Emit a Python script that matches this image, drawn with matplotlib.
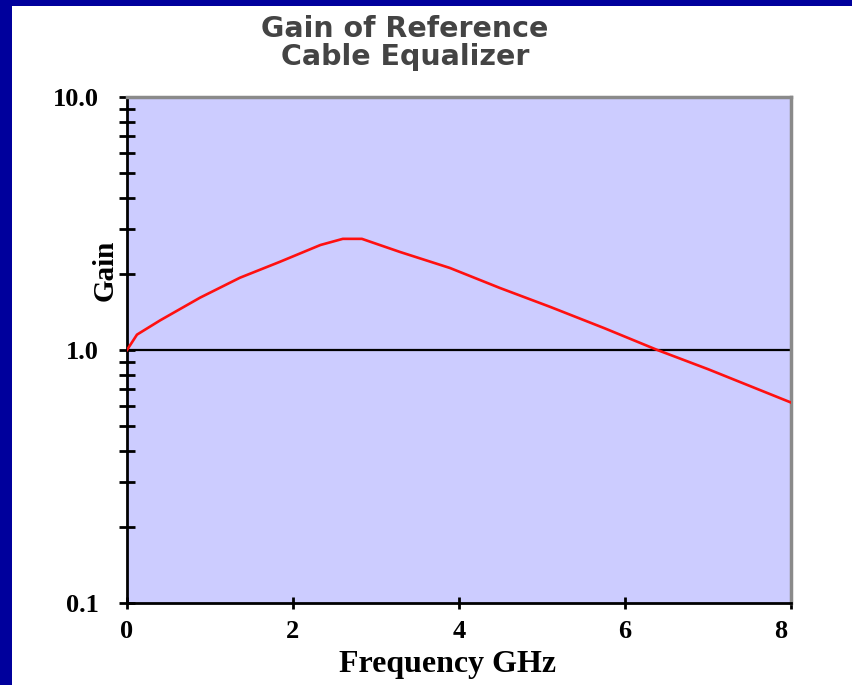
import matplotlib.pyplot as plt
import matplotlib.transforms as mtransforms
from matplotlib.patches import Rectangle
from matplotlib.ticker import FixedLocator, NullFormatter

# valeurs
freq_ghz = [0, 0.12, 0.40, 0.88, 1.36, 1.84, 2.33, 2.60, 2.83, 3.29, 3.89,
            4.49, 5.10, 5.75, 6.39, 7.0, 8.0]
gain = [1.0, 1.15, 1.31, 1.61, 1.93, 2.23, 2.60, 2.75, 2.75, 2.44, 2.11,
        1.76, 1.48, 1.22, 1.0, 0.84, 0.62]
x_ticks = [0, 2, 4, 6, 8]
y_ticks = [0.1, 1.0, 10.0]
y_tick_labels = ["0.1", "1.0", "10.0"]

W, H = 853, 685
fig = plt.figure(figsize=(W / 100, H / 100), dpi=100)
fig.patch.set_facecolor("white")

# bordure bleu marine
navy = "#00009c"
fig.add_artist(Rectangle((0, 0), 12 / W, 1, transform=fig.transFigure,
                         facecolor=navy, edgecolor="none"))
fig.add_artist(Rectangle((0, 1 - 6 / H), 1, 6 / H, transform=fig.transFigure,
                         facecolor=navy, edgecolor="none"))

ax = fig.add_axes([127 / W, 1 - 603 / H, 664 / W, 506 / H])
ax.set_facecolor("#ccccff")

ax.axhline(1.0, color="black", lw=1.6, zorder=2)
ax.plot(freq_ghz, gain, color="#ff1010", lw=1.9, zorder=3)

ax.set_yscale("log")
ax.set_ylim(0.1, 10)
ax.set_xlim(0, 8)

serif = "Liberation Serif"
ax.yaxis.set_major_locator(FixedLocator(y_ticks))
ax.set_yticklabels(y_tick_labels, fontfamily=serif, fontweight="bold", fontsize=19)
minor = [m * 0.1 for m in range(2, 10)] + [float(m) for m in range(2, 10)]
ax.yaxis.set_minor_locator(FixedLocator(minor))
ax.yaxis.set_minor_formatter(NullFormatter())
ax.set_xticks(x_ticks)
ax.set_xticklabels([str(v) for v in x_ticks], fontfamily=serif,
                   fontweight="bold", fontsize=19)

ax.tick_params(axis="y", which="both", direction="inout", length=12, width=2,
               pad=14, color="black")
ax.tick_params(axis="x", which="major", direction="inout", length=9, width=2,
               pad=8, color="black")

# le "8" est un peu décalé vers la gauche dans l'original
last = ax.get_xticklabels()[-1]
last.set_transform(last.get_transform() +
                   mtransforms.ScaledTranslation(-10 / 100, 0, fig.dpi_scale_trans))

for side in ["left", "bottom"]:
    ax.spines[side].set_color("black")
    ax.spines[side].set_linewidth(2)
for side in ["top", "right"]:
    ax.spines[side].set_color("#8a8a8a")
    ax.spines[side].set_linewidth(2.5)

ax.set_xlabel("Frequency GHz", fontfamily=serif, fontweight="bold", fontsize=23)
ax.xaxis.set_label_coords(0.483, -0.092)
ax.set_ylabel("Gain", fontfamily=serif, fontweight="bold", fontsize=21)
ax.yaxis.set_label_coords(-0.012, 0.658)

title_kw = dict(ha="center", va="center", fontfamily="DejaVu Sans",
                fontweight="semibold", fontsize=20.5, color="#444444")
fig.text(405 / W, 1 - 29 / H, "Gain of Reference", **title_kw)
fig.text(405 / W, 1 - 57 / H, "Cable Equalizer", **title_kw)

fig.savefig("out.png", dpi=100, facecolor=fig.get_facecolor())
